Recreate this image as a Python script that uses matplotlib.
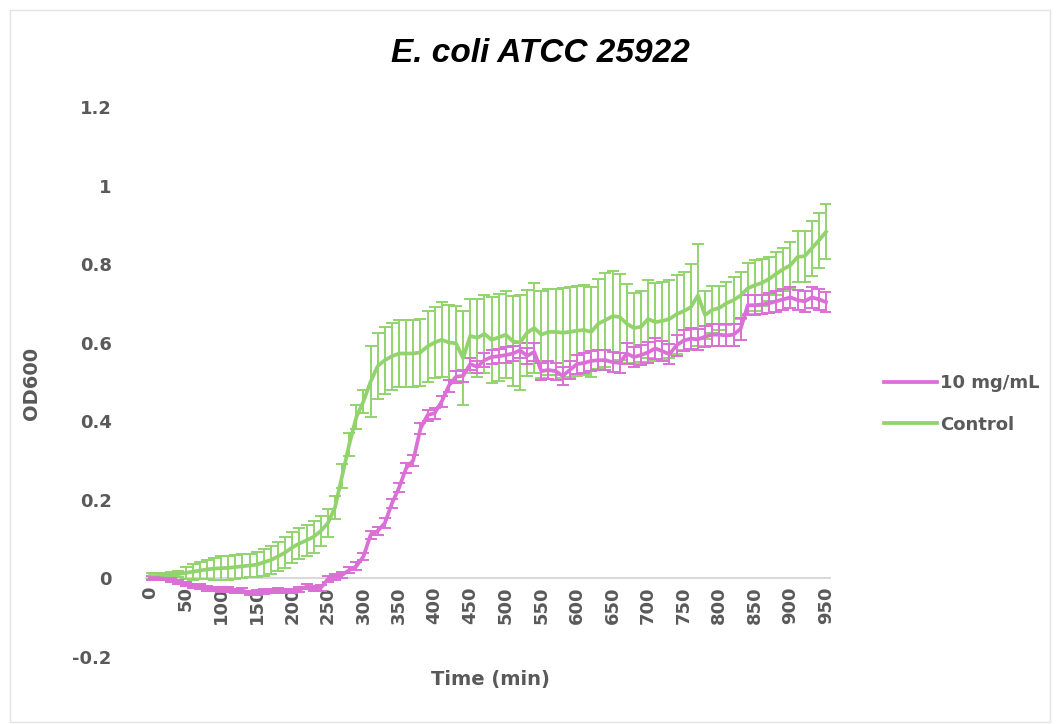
import matplotlib
matplotlib.use("Agg")
import matplotlib.pyplot as plt
from matplotlib.patches import Rectangle
import numpy as np

# ---- data (OD600) ----
time_min = list(range(0, 951, 10))

treated_mean = [
    0.000, 0.000, -0.002, -0.005, -0.010, -0.015, -0.020, -0.022, -0.026, -0.028,
    -0.030, -0.030, -0.033, -0.032, -0.038, -0.036, -0.034, -0.033, -0.032, -0.033,
    -0.033, -0.030, -0.022, -0.027, -0.025, -0.003, 0.003, 0.008, 0.020, 0.030,
    0.055, 0.110, 0.120, 0.140, 0.190, 0.230, 0.280, 0.300, 0.380, 0.415,
    0.420, 0.450, 0.490, 0.513, 0.515, 0.545, 0.538, 0.555, 0.563, 0.565,
    0.568, 0.572, 0.580, 0.566, 0.576, 0.527, 0.530, 0.527, 0.515, 0.530,
    0.545, 0.548, 0.553, 0.555, 0.555, 0.550, 0.548, 0.572, 0.563, 0.568,
    0.575, 0.585, 0.578, 0.570, 0.593, 0.605, 0.610, 0.608, 0.615, 0.620,
    0.620, 0.618, 0.620, 0.635, 0.695, 0.695, 0.697, 0.700, 0.705, 0.710,
    0.715, 0.708, 0.705, 0.715, 0.710, 0.703]

treated_sd = [
    0.004, 0.004, 0.004, 0.005, 0.005, 0.005, 0.006, 0.006, 0.006, 0.006,
    0.006, 0.006, 0.006, 0.006, 0.006, 0.006, 0.006, 0.006, 0.006, 0.006,
    0.006, 0.006, 0.006, 0.006, 0.007, 0.007, 0.008, 0.008, 0.008, 0.010,
    0.010, 0.010, 0.010, 0.012, 0.012, 0.012, 0.012, 0.014, 0.014, 0.014,
    0.014, 0.015, 0.015, 0.015, 0.015, 0.016, 0.016, 0.018, 0.018, 0.018,
    0.020, 0.020, 0.020, 0.020, 0.022, 0.022, 0.022, 0.022, 0.022, 0.022,
    0.024, 0.025, 0.025, 0.025, 0.025, 0.025, 0.025, 0.026, 0.026, 0.026,
    0.026, 0.026, 0.026, 0.026, 0.027, 0.027, 0.027, 0.027, 0.027, 0.028,
    0.028, 0.028, 0.028, 0.028, 0.025, 0.025, 0.025, 0.026, 0.026, 0.026,
    0.026, 0.026, 0.026, 0.026, 0.026, 0.026]

control_mean = [
    0.005, 0.005, 0.006, 0.008, 0.010, 0.013, 0.016, 0.019, 0.022, 0.024,
    0.025, 0.026, 0.028, 0.030, 0.032, 0.034, 0.040, 0.046, 0.055, 0.065,
    0.078, 0.088, 0.096, 0.105, 0.120, 0.140, 0.180, 0.260, 0.340, 0.410,
    0.450, 0.500, 0.540, 0.555, 0.565, 0.572, 0.572, 0.572, 0.575, 0.590,
    0.600, 0.607, 0.600, 0.598, 0.560, 0.617, 0.612, 0.622, 0.607, 0.613,
    0.620, 0.603, 0.600, 0.625, 0.637, 0.620, 0.627, 0.627, 0.625, 0.627,
    0.630, 0.632, 0.627, 0.648, 0.657, 0.667, 0.665, 0.648, 0.637, 0.640,
    0.660, 0.652, 0.655, 0.660, 0.672, 0.680, 0.690, 0.720, 0.670, 0.683,
    0.688, 0.700, 0.708, 0.720, 0.738, 0.746, 0.752, 0.762, 0.775, 0.787,
    0.797, 0.818, 0.820, 0.840, 0.860, 0.882]

control_sd = [
    0.008, 0.008, 0.008, 0.008, 0.008, 0.015, 0.020, 0.022, 0.025, 0.028,
    0.030, 0.030, 0.030, 0.030, 0.030, 0.032, 0.035, 0.035, 0.038, 0.040,
    0.040, 0.040, 0.040, 0.040, 0.038, 0.035, 0.030, 0.030, 0.030, 0.030,
    0.030, 0.090, 0.085, 0.085, 0.085, 0.085, 0.085, 0.085, 0.085, 0.090,
    0.090, 0.095, 0.095, 0.095, 0.120, 0.095, 0.100, 0.100, 0.110, 0.110,
    0.110, 0.115, 0.120, 0.110, 0.115, 0.110, 0.110, 0.110, 0.115, 0.115,
    0.115, 0.115, 0.115, 0.115, 0.120, 0.115, 0.110, 0.100, 0.090, 0.090,
    0.100, 0.100, 0.100, 0.100, 0.100, 0.100, 0.110, 0.130, 0.060, 0.060,
    0.055, 0.055, 0.060, 0.060, 0.065, 0.065, 0.060, 0.055, 0.055, 0.055,
    0.060, 0.065, 0.065, 0.070, 0.070, 0.070]

series_labels = ["10 mg/mL", "Control"]
x_tick_values = list(range(0, 951, 50))
y_tick_values = [-0.2, 0, 0.2, 0.4, 0.6, 0.8, 1, 1.2]
y_tick_labels = ["-0.2", "0", "0.2", "0.4", "0.6", "0.8", "1", "1.2"]

# ---- style ----
plt.rcParams["font.family"] = ["DejaVu Sans"]
magenta = "#DA70D6"
green = "#92D36E"
txt = "#595959"

W, H = 1058, 724
fig = plt.figure(figsize=(W / 100, H / 100), dpi=100)
fig.patches.append(Rectangle((10 / W, 2 / H), 1040 / W, (H - 12) / H,
                             transform=fig.transFigure, fill=False,
                             edgecolor="#E3E3E3", linewidth=1.0))

ax = fig.add_axes([0.1384, 0.0932, 0.6457, 0.759])

t = np.array(time_min)
ax.errorbar(t, control_mean, yerr=control_sd, fmt="none", ecolor=green,
            elinewidth=1.4, capsize=4.5, capthick=1.4, zorder=2)
ax.errorbar(t, treated_mean, yerr=treated_sd, fmt="none", ecolor=magenta,
            elinewidth=1.4, capsize=4.5, capthick=1.4, zorder=3)
ax.plot(t, control_mean, color=green, linewidth=2.7, label=series_labels[1], zorder=4)
ax.plot(t, treated_mean, color=magenta, linewidth=2.7, label=series_labels[0], zorder=5)

ax.set_xlim(-5, 955)
ax.set_ylim(-0.2, 1.2)

for s in ["top", "right", "left"]:
    ax.spines[s].set_visible(False)
ax.spines["bottom"].set_position(("data", 0))
ax.spines["bottom"].set_color("#D9D9D9")
ax.spines["bottom"].set_linewidth(1.5)
ax.spines["bottom"].set_zorder(1)

ax.set_xticks(x_tick_values)
ax.set_xticklabels([str(v) for v in x_tick_values], rotation=90,
                   fontsize=13, fontweight="bold", color=txt, va="top")
ax.set_yticks(y_tick_values)
ax.set_yticklabels(y_tick_labels, fontsize=13, fontweight="bold", color=txt)
ax.tick_params(axis="x", length=0, pad=6)
ax.tick_params(axis="y", length=0, pad=25)

fig.text(0.4637, 1 - 680 / H, "Time (min)", ha="center", va="center",
         fontsize=14, fontweight="bold", color=txt)
fig.text(31 / W, 1 - 383 / H, "OD600", ha="center", va="center", rotation=90,
         fontsize=14, fontweight="bold", color=txt)
fig.text(540 / W, 1 - 53 / H, "E. coli ATCC 25922", ha="center", va="center",
         fontsize=24, fontweight="bold", fontstyle="italic", color="black",
         family=["Liberation Sans", "DejaVu Sans"])

handles, labels = ax.get_legend_handles_labels()
order = [labels.index(series_labels[0]), labels.index(series_labels[1])]
leg = fig.legend([handles[i] for i in order], [labels[i] for i in order],
                 loc="center left", bbox_to_anchor=(868 / W, 1 - 404 / H),
                 frameon=False, handlelength=2.9, handletextpad=0.2,
                 labelspacing=1.3, prop={"weight": "bold", "size": 13})
for text in leg.get_texts():
    text.set_color(txt)

fig.savefig("out.png", dpi=100)
